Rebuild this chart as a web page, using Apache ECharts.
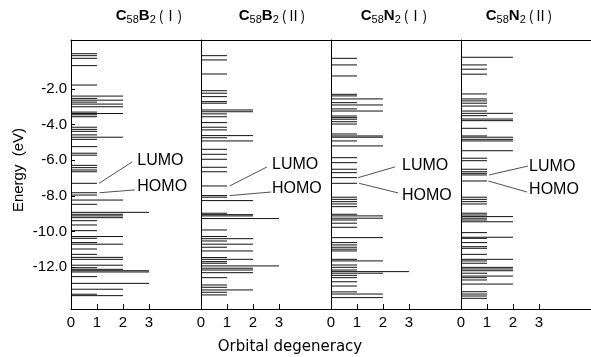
<!DOCTYPE html>
<html>
<head>
<meta charset="utf-8">
<script src="https://cdn.jsdelivr.net/npm/echarts@6/dist/echarts.min.js"></script>
<style>html,body{margin:0;padding:0;background:#fff}#c{width:591px;height:357px}</style>
</head>
<body>
<div id="c"></div>
<script>
// ---- data ----
const panelTitles = ['C58B2(Ⅰ)', 'C58B2(Ⅱ)', 'C58N2(Ⅰ)', 'C58N2(Ⅱ)'];
const yTickValues = [-2, -4, -6, -8, -10, -12];
const xTickValues = [0, 1, 2, 3];

const b2I_E = [-0.02,-0.13,-0.28,-0.69,-1.78,-2.4,-2.53,-2.63,-2.74,-2.85,-3.0,-3.3,-3.38,-3.45,-3.56,-4.15,-4.27,-4.38,-4.58,-4.71,-4.83,-5.24,-5.61,-5.72,-6.29,-6.42,-6.55,-6.65,-7.3,-7.83,-7.96,-8.24,-8.48,-8.93,-9.04,-9.13,-9.23,-9.4,-9.64,-9.96,-10.29,-10.39,-10.63,-10.72,-10.99,-11.29,-11.46,-11.57,-11.9,-12.04,-12.13,-12.21,-12.28,-12.54,-12.92,-13.25,-13.53,-13.61];
const b2I_D = [1,1,1,1,1,2,1,2,1,2,2,1,2,1,1,1,1,1,1,2,1,1,1,1,1,1,1,1,1,1,1,2,1,3,2,2,2,1,1,1,2,1,1,2,1,1,2,2,2,1,2,3,3,1,3,2,1,2];

const b2II_E = [-0.13,-0.37,-1.16,-2.1,-2.24,-2.43,-2.71,-2.8,-3.18,-3.28,-3.4,-3.56,-3.89,-4.15,-4.3,-4.62,-4.74,-4.92,-5.39,-5.67,-5.95,-6.4,-6.65,-7.45,-7.99,-8.08,-8.27,-8.98,-9.06,-9.13,-9.28,-9.92,-10.29,-10.41,-10.54,-10.72,-10.89,-11.1,-11.47,-11.57,-11.7,-11.79,-11.94,-12.07,-12.17,-12.32,-12.6,-13.01,-13.14,-13.29,-13.42,-13.57];
const b2II_D = [1,1,1,1,1,1,1,1,2,2,1,1,1,1,1,2,1,2,1,1,1,1,1,1,1,1,2,1,2,2,3,1,1,2,1,2,1,2,1,2,1,1,3,2,2,2,1,1,1,2,1,1];

const n2I_E = [-0.28,-0.65,-1.27,-2.3,-2.39,-2.56,-2.77,-2.9,-3.12,-3.24,-3.52,-3.61,-3.7,-3.84,-3.97,-4.53,-4.64,-4.71,-4.92,-5.2,-5.86,-6.14,-6.51,-6.7,-6.98,-7.3,-8.08,-8.2,-8.33,-8.46,-8.61,-9.04,-9.13,-9.26,-9.36,-9.54,-9.77,-10.35,-10.63,-10.76,-10.89,-11.0,-11.1,-11.57,-11.66,-11.89,-12.02,-12.17,-12.26,-12.35,-12.47,-12.6,-12.83,-13.07,-13.4,-13.52,-13.72];
const n2I_D = [1,1,1,1,1,2,1,2,1,2,1,1,1,1,1,1,2,2,1,2,1,1,1,1,1,1,1,1,1,1,1,1,2,2,1,1,1,2,1,1,1,1,1,1,2,1,1,1,3,2,1,1,1,1,1,2,2];

const n2II_E = [-0.22,-0.65,-0.89,-1.17,-2.28,-2.56,-2.67,-2.8,-2.96,-3.24,-3.37,-3.5,-3.69,-3.78,-4.21,-4.64,-4.71,-4.83,-4.92,-5.47,-5.89,-6.03,-6.51,-6.65,-6.74,-6.83,-7.17,-8.08,-8.2,-8.33,-8.46,-8.98,-9.08,-9.17,-9.26,-9.36,-9.46,-10.07,-10.33,-10.39,-10.63,-10.86,-10.95,-11.29,-11.57,-11.66,-11.79,-12.02,-12.11,-12.21,-12.35,-12.51,-12.6,-12.73,-12.96,-13.39,-13.52,-13.63,-13.76];
const n2II_D = [2,1,1,1,1,1,1,1,1,1,2,1,2,2,1,1,2,2,2,2,1,1,1,1,1,1,1,1,1,1,1,1,1,2,1,1,2,1,2,1,1,1,1,1,2,1,1,2,2,2,1,2,1,1,2,1,1,1,1];

// LUMO / HOMO annotations: [levelX, levelE, lineEndX, lineEndE, textX, textE, label]
const ann_b2I  = [[1.08,-7.3,2.35,-6.1,2.55,-6.04,'LUMO'],[1.1,-7.83,2.46,-7.67,2.55,-7.5,'HOMO']];
const ann_b2II = [[1.1,-7.45,2.54,-6.38,2.73,-6.27,'LUMO'],[1.1,-7.99,2.69,-7.79,2.73,-7.62,'HOMO']];
const ann_n2I  = [[1.05,-6.98,2.46,-6.38,2.73,-6.33,'LUMO'],[1.08,-7.3,2.58,-7.84,2.73,-8.01,'HOMO']];
const ann_n2II = [[1.08,-6.83,2.58,-6.33,2.62,-6.38,'LUMO'],[1.05,-7.17,2.54,-7.79,2.62,-7.67,'HOMO']];

const panels = [
  {E: b2I_E, D: b2I_D, ann: ann_b2I},
  {E: b2II_E, D: b2II_D, ann: ann_b2II},
  {E: n2I_E, D: n2I_D, ann: ann_n2I},
  {E: n2II_E, D: n2II_D, ann: ann_n2II}
];

// ---- chart ----
const FONT = '"Liberation Sans", Arial, sans-serif';
const chart = echarts.init(document.getElementById('c'), null, {renderer: 'canvas'});
const grid = [], xAxis = [], yAxis = [], series = [];
const yMin = -14.36, yMax = 0.75;

panels.forEach((p, i) => {
  grid.push({left: 71 + 130 * i, width: 130, top: 40, bottom: 48, show: false});
  xAxis.push({
    type: 'value', gridIndex: i, min: 0, max: 5, position: 'bottom',
    axisLine: {show: true, onZero: false, lineStyle: {color: '#000', width: 1}},
    axisTick: {show: true, inside: true, length: 5, customValues: [1, 2, 3], lineStyle: {color: '#000'}},
    axisLabel: {show: true, customValues: xTickValues, color: '#000', fontSize: 15, fontFamily: FONT, margin: 6},
    splitLine: {show: false}
  });
  yAxis.push({
    type: 'value', gridIndex: i, min: yMin, max: yMax,
    axisLine: {show: true, onZero: false, lineStyle: {color: '#000', width: 1}},
    axisTick: {show: i === 0, inside: true, length: 4, customValues: yTickValues, lineStyle: {color: '#000'}},
    axisLabel: {show: i === 0, customValues: yTickValues, color: '#000', fontSize: 15, fontFamily: FONT, margin: 4,
      formatter: v => v.toFixed(1)},
    splitLine: {show: false}
  });
  series.push({
    type: 'custom', xAxisIndex: i, yAxisIndex: i, silent: true, animation: false, clip: false,
    data: p.E.map((e, k) => [p.D[k], e]),
    renderItem: (params, api) => {
      const a = api.coord([0, api.value(1)]);
      const b = api.coord([api.value(0), api.value(1)]);
      return {type: 'line', shape: {x1: a[0], y1: a[1], x2: b[0], y2: b[1]},
        style: {stroke: '#111', lineWidth: 1}};
    }
  });
  series.push({
    type: 'custom', xAxisIndex: i, yAxisIndex: i, silent: true, animation: false, clip: false,
    data: p.ann,
    renderItem: (params, api) => {
      const a = api.coord([api.value(0), api.value(1)]);
      const b = api.coord([api.value(2), api.value(3)]);
      const t = api.coord([api.value(4), api.value(5)]);
      return {type: 'group', children: [
        {type: 'line', shape: {x1: a[0], y1: a[1], x2: b[0], y2: b[1]}, style: {stroke: '#222', lineWidth: 0.8}},
        {type: 'text', x: t[0], y: t[1], style: {text: p.ann[params.dataIndex][6], fill: '#000',
          font: '16px ' + FONT, align: 'left', verticalAlign: 'middle'}}
      ]};
    }
  });
});
// top border axes
panels.forEach((p, i) => {
  xAxis.push({
    type: 'value', gridIndex: i, min: 0, max: 5, position: 'top',
    axisLine: {show: true, onZero: false, lineStyle: {color: '#000', width: 1}},
    axisTick: {show: false}, axisLabel: {show: false}, splitLine: {show: false}
  });
});

const rich = {
  c: {fontSize: 15, fontWeight: 'bold', fontFamily: FONT, color: '#000', lineHeight: 16, padding: [0, 0, 2, 0], verticalAlign: 'bottom'},
  s: {fontSize: 11, fontFamily: FONT, color: '#000', lineHeight: 11, verticalAlign: 'bottom'},
  p: {fontSize: 14, fontFamily: '"Noto Sans CJK JP", sans-serif', color: '#000', lineHeight: 16, padding: [0, 0, 2, 3], verticalAlign: 'bottom'}
};
const titleCenters = [149, 272, 394, 519];
const graphic = panelTitles.map((t, i) => {
  const m = t.match(/^C(\d+)([A-Z])(\d+)(\(.*\))$/);
  return {type: 'text', x: titleCenters[i], y: 17, silent: true,
    style: {text: '{c|C}{s|' + m[1] + '}{c|' + m[2] + '}{s|' + m[3] + '}{p|' + m[4] + '}', rich: rich,
      align: 'center', verticalAlign: 'middle'}};
});
graphic.push({type: 'text', x: 19, y: 170, rotation: Math.PI / 2, silent: true,
  style: {text: 'Energy  (eV)', font: '15px ' + FONT, fill: '#000', align: 'center', verticalAlign: 'middle'}});
graphic.push({type: 'text', x: 290, y: 347, silent: true,
  style: {text: 'Orbital degeneracy', font: '15px "DejaVu Sans", sans-serif', fill: '#000', align: 'center', verticalAlign: 'middle'}});

chart.setOption({animation: false, backgroundColor: '#fff', grid, xAxis, yAxis, series, graphic});
</script>
</body>
</html>
